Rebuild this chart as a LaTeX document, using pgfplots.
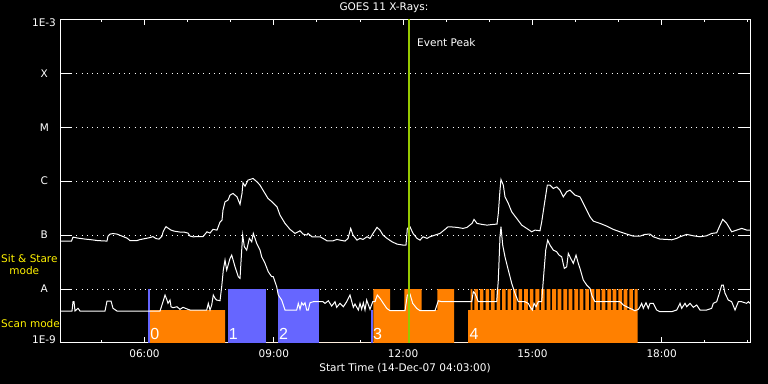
\documentclass[border=0pt]{standalone}
\usepackage{pgfplots}
\usepackage{pgfplotstable}
\pgfplotsset{compat=1.18}
\usepackage{fontspec}
\setmainfont{DejaVu Sans}
\newfontfamily\numfamily{Liberation Sans}
\newcommand\labfont{\fontsize{10.5bp}{12.6bp}\selectfont}
\newcommand\numfont{\numfamily\fontsize{16bp}{18bp}\selectfont}
\definecolor{orangebar}{RGB}{255,128,0}
\definecolor{bluebar}{RGB}{102,102,255}
\definecolor{peak}{RGB}{150,200,0}

% long channel (log10 flux) vs hours
\pgfplotstableread{
h l
4.046 -7.111
4.306 -7.111
4.341 -7.037
4.457 -7.056
4.620 -7.074
4.735 -7.083
4.921 -7.102
5.130 -7.111
5.153 -7.019
5.200 -6.981
5.269 -6.972
5.362 -6.981
5.478 -7.019
5.594 -7.056
5.664 -7.102
5.826 -7.102
5.896 -7.083
6.012 -7.065
6.128 -7.046
6.197 -7.028
6.267 -7.065
6.336 -7.074
6.406 -7.019
6.429 -6.944
6.476 -6.870
6.499 -6.843
6.545 -6.870
6.615 -6.907
6.684 -6.926
6.754 -6.935
6.824 -6.944
6.917 -6.944
7.009 -6.963
7.056 -7.019
7.125 -7.031
7.357 -7.028
7.450 -6.939
7.520 -6.963
7.589 -6.894
7.682 -6.907
7.752 -6.759
7.798 -6.722
7.821 -6.537
7.868 -6.383
7.937 -6.352
7.984 -6.259
8.053 -6.228
8.146 -6.291
8.216 -6.431
8.262 -6.228
8.285 -6.031
8.332 -6.093
8.401 -5.981
8.517 -5.950
8.610 -6.013
8.680 -6.074
8.749 -6.167
8.865 -6.320
8.958 -6.383
9.074 -6.476
9.144 -6.630
9.260 -6.783
9.376 -6.894
9.492 -6.969
9.608 -6.920
9.678 -6.981
9.770 -7.000
9.794 -6.969
9.886 -7.031
10.072 -7.031
10.142 -7.061
10.234 -7.106
10.374 -7.106
10.466 -7.080
10.536 -7.093
10.652 -7.111
10.722 -7.061
10.784 -6.876
10.838 -7.000
10.930 -7.093
11.000 -7.061
11.070 -7.080
11.163 -7.031
11.232 -7.061
11.302 -6.969
11.394 -6.857
11.464 -6.907
11.534 -7.000
11.627 -7.061
11.743 -7.124
11.858 -7.167
11.998 -7.185
12.067 -7.185
12.098 -6.876
12.160 -6.846
12.230 -6.969
12.323 -7.061
12.392 -7.093
12.462 -7.031
12.555 -7.061
12.624 -7.031
12.740 -7.000
12.856 -6.969
12.972 -6.894
13.042 -6.846
13.088 -6.846
13.251 -6.857
13.390 -6.876
13.483 -6.857
13.599 -6.783
13.645 -6.709
13.715 -6.783
13.831 -6.802
13.947 -6.815
14.086 -6.802
14.179 -6.796
14.209 -6.598
14.248 -6.167
14.271 -5.969
14.325 -6.074
14.364 -6.291
14.441 -6.413
14.520 -6.569
14.636 -6.691
14.752 -6.815
14.868 -6.876
14.984 -6.939
15.060 -6.907
15.176 -6.920
15.216 -6.754
15.292 -6.352
15.346 -6.074
15.408 -6.074
15.485 -6.135
15.564 -6.106
15.640 -6.167
15.717 -6.291
15.796 -6.198
15.872 -6.167
15.988 -6.259
16.104 -6.291
16.181 -6.413
16.260 -6.537
16.337 -6.661
16.413 -6.741
16.569 -6.783
16.724 -6.833
16.877 -6.894
17.032 -6.939
17.188 -6.981
17.341 -7.019
17.497 -7.019
17.613 -6.987
17.729 -6.981
17.805 -7.031
17.961 -7.074
18.116 -7.080
18.232 -7.087
18.348 -7.061
18.425 -7.031
18.580 -6.987
18.734 -7.013
18.889 -7.031
19.044 -7.013
19.160 -6.969
19.276 -6.957
19.337 -6.846
19.416 -6.709
19.508 -6.783
19.624 -6.939
19.740 -6.907
19.856 -6.876
19.972 -6.907
20.049 -6.907
}\longchan

% short channel (log10 flux) vs hours
\pgfplotstableread{
h l
4.046 -8.407
4.318 -8.407
4.341 -8.235
4.364 -8.235
4.387 -8.407
4.457 -8.357
4.503 -8.407
5.084 -8.407
5.130 -8.222
5.223 -8.222
5.269 -8.357
5.362 -8.407
6.360 -8.407
6.429 -8.235
6.476 -8.111
6.522 -8.204
6.545 -8.265
6.592 -8.204
6.615 -8.328
6.661 -8.346
6.754 -8.328
6.824 -8.376
6.893 -8.339
7.009 -8.376
7.056 -8.389
7.443 -8.389
7.480 -8.265
7.520 -8.389
7.559 -8.296
7.596 -8.111
7.636 -8.172
7.675 -8.204
7.752 -8.217
7.791 -7.957
7.828 -7.648
7.868 -7.463
7.907 -7.648
7.984 -7.431
8.023 -7.370
8.100 -7.587
8.176 -7.772
8.216 -7.802
8.255 -7.278
8.278 -7.000
8.316 -7.217
8.371 -7.278
8.432 -7.061
8.487 -7.124
8.524 -6.969
8.564 -7.061
8.603 -7.154
8.680 -7.278
8.719 -7.402
8.796 -7.524
8.872 -7.680
8.951 -7.772
8.988 -7.772
9.028 -7.865
9.067 -7.957
9.104 -8.111
9.183 -8.204
9.260 -8.389
9.531 -8.389
9.568 -8.265
9.608 -8.376
9.647 -8.254
9.684 -8.296
9.724 -8.254
9.763 -8.389
9.800 -8.389
9.840 -8.254
9.916 -8.235
10.142 -8.235
10.188 -8.265
10.265 -8.217
10.343 -8.315
10.420 -8.235
10.459 -8.339
10.536 -8.265
10.613 -8.328
10.691 -8.235
10.768 -8.111
10.845 -8.339
10.884 -8.278
10.961 -8.389
11.000 -8.265
11.039 -8.376
11.077 -8.254
11.116 -8.389
11.155 -8.204
11.232 -8.376
11.295 -8.235
11.348 -8.235
11.401 -8.111
11.464 -8.172
11.541 -8.265
11.620 -8.357
11.696 -8.402
12.044 -8.402
12.098 -8.111
12.160 -8.093
12.223 -8.265
12.316 -8.357
12.392 -8.402
12.740 -8.402
12.817 -8.217
12.896 -8.235
13.592 -8.235
13.629 -8.050
13.668 -8.080
13.745 -8.235
14.172 -8.235
14.209 -7.833
14.248 -7.031
14.271 -6.846
14.311 -7.185
14.364 -7.402
14.441 -7.648
14.520 -7.894
14.596 -8.080
14.673 -8.235
14.828 -8.235
14.905 -8.265
14.944 -8.328
14.998 -8.389
15.037 -8.265
15.084 -8.328
15.137 -8.235
15.216 -8.235
15.253 -7.833
15.309 -7.278
15.355 -7.093
15.408 -7.185
15.485 -7.278
15.564 -7.309
15.617 -7.370
15.680 -7.402
15.740 -7.617
15.796 -7.587
15.833 -7.339
15.889 -7.431
15.949 -7.524
16.012 -7.370
16.065 -7.524
16.104 -7.617
16.181 -7.833
16.260 -7.926
16.337 -7.987
16.376 -8.111
16.413 -8.172
16.452 -8.235
17.032 -8.235
17.072 -8.265
17.109 -8.296
17.188 -8.328
17.264 -8.357
17.380 -8.402
17.457 -8.376
17.497 -8.328
17.536 -8.265
17.573 -8.357
17.636 -8.254
17.689 -8.357
17.729 -8.265
17.805 -8.265
17.884 -8.389
17.961 -8.420
18.232 -8.420
18.348 -8.389
18.408 -8.296
18.425 -8.265
18.464 -8.357
18.541 -8.265
18.580 -8.328
18.657 -8.265
18.734 -8.339
18.812 -8.296
18.889 -8.389
19.044 -8.389
19.160 -8.357
19.197 -8.265
19.276 -8.235
19.337 -8.080
19.392 -7.926
19.430 -7.926
19.469 -8.080
19.546 -8.204
19.624 -8.235
19.701 -8.389
19.778 -8.235
19.856 -8.235
19.972 -8.265
20.009 -8.235
20.049 -8.265
}\shortchan

\begin{document}
\begin{tikzpicture}
\useasboundingbox (0,0) rectangle (768bp,384bp);
\fill[black] (0,0) rectangle (768bp,384bp);
\begin{axis}[
  at={(60.3bp,41bp)}, anchor=south west,
  scale only axis, width=690bp, height=323.7bp,
  xmin=4.046, xmax=20.056, ymin=-9, ymax=-3,
  axis line style={white, line width=1bp},
  xtick={6,9,12,15,18}, xticklabels={06:00,09:00,12:00,15:00,18:00},
  minor xtick={5,7,8,10,11,13,14,16,17,19,20},
  ytick={-8,-7,-6,-5,-4}, yticklabels={A,B,C,M,X},
  tick align=inside,
  tick style={white, line width=1bp},
  xtick style={/pgfplots/major tick length=6bp, /pgfplots/minor tick length=3bp},
  ytick style={/pgfplots/major tick length=12bp},
  tick label style={white, font=\labfont},
  xticklabel style={yshift=-3bp},
  yticklabel style={anchor=center, xshift=-16bp},
  ymajorgrids,
  grid style={white, line width=1bp, dash pattern=on 1bp off 4.3bp},
]
% scan / sit & stare mode bars
\addplot[const plot, fill=orangebar, draw=none] coordinates {
(6.121,-9)(6.121,-8.389)(7.868,-9)(11.309,-8)(11.696,-8.389)(12.032,-8)(12.432,-8.389)(12.794,-8)(13.181,-9)(13.506,-8.389)
(13.568,-8)(13.608,-8.389)(13.654,-8)(13.735,-8.389)(13.782,-8)(13.865,-8.389)(13.912,-8)(13.993,-8.389)(14.039,-8)(14.121,-8.389)
(14.167,-8)(14.251,-8.389)(14.297,-8)(14.378,-8.389)(14.425,-8)(14.508,-8.389)(14.555,-8)(14.636,-8.389)(14.682,-8)(14.763,-8.389)
(14.810,-8)(14.893,-8.389)(14.940,-8)(15.021,-8.389)(15.067,-8)(15.160,-8.389)(15.200,-8)(15.285,-8.389)(15.332,-8)(15.415,-8.389)
(15.455,-8)(15.548,-8.389)(15.587,-8)(15.671,-8.389)(15.717,-8)(15.803,-8.389)(15.842,-8)(15.926,-8.389)(15.972,-8)(16.058,-8.389)
(16.097,-8)(16.181,-8.389)(16.227,-8)(16.313,-8.389)(16.353,-8)(16.436,-8.389)(16.476,-8)(16.569,-8.389)(16.608,-8)(16.691,-8.389)
(16.738,-8)(16.824,-8.389)(16.864,-8)(16.947,-8.389)(16.993,-8)(17.079,-8.389)(17.118,-8)(17.202,-8.389)(17.248,-8)(17.334,-8.389)
(17.374,-8)(17.443,-9)} -- cycle;
\addplot[fill=bluebar, draw=none] coordinates {(6.088,-9)(6.088,-8)(6.121,-8)(6.121,-9)} -- cycle;
\addplot[fill=bluebar, draw=none] coordinates {(7.930,-9)(7.930,-8)(8.812,-8)(8.812,-9)} -- cycle;
\addplot[fill=bluebar, draw=none] coordinates {(9.097,-9)(9.097,-8)(10.042,-8)(10.042,-9)} -- cycle;
\addplot[fill=bluebar, draw=none] coordinates {(11.255,-9)(11.255,-8.389)(11.309,-8.389)(11.309,-9)} -- cycle;
% GOES curves
\addplot[white, line width=1bp] table[x=h, y=l] {\longchan};
\addplot[white, line width=1bp] table[x=h, y=l] {\shortchan};
% event peak
\addplot[peak, line width=2bp] coordinates {(12.132,-9)(12.132,-3)};
% bar numbers
\node[anchor=west, inner sep=0.5bp, white, font=\numfont] at (axis cs:6.121,-8.833) {0};
\node[anchor=west, inner sep=0.5bp, white, font=\numfont] at (axis cs:7.940,-8.833) {1};
\node[anchor=west, inner sep=0.5bp, white, font=\numfont] at (axis cs:9.105,-8.833) {2};
\node[anchor=west, inner sep=0.5bp, white, font=\numfont] at (axis cs:11.290,-8.833) {3};
\node[anchor=west, inner sep=0.5bp, white, font=\numfont] at (axis cs:13.525,-8.833) {4};
\end{axis}
% outer labels
\node[white, font=\labfont] at (384bp,376bp) {GOES 11 X-Rays:};
\node[white, font=\labfont] at (405bp,16bp) {Start Time (14-Dec-07 04:03:00)};
\node[white, font=\labfont] at (44bp,361bp) {1E-3};
\node[white, font=\labfont] at (44bp,44.3bp) {1E-9};
\node[white, font=\labfont, anchor=west, inner sep=0pt] at (417bp,341bp) {Event Peak};
\node[yellow, font=\labfont, anchor=west, inner sep=0pt] at (1bp,125bp) {Sit \& Stare};
\node[yellow, font=\labfont] at (24.3bp,113bp) {mode};
\node[yellow, font=\labfont, anchor=west, inner sep=0pt] at (1bp,60bp) {Scan mode};
\end{tikzpicture}
\end{document}
